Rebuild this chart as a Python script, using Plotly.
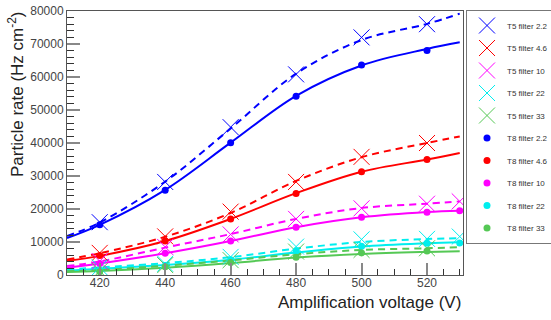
import plotly.graph_objects as go

# ---------------- data ----------------
filters = ["2.2", "4.6", "10", "22", "33"]
colors = ["#0000ff", "#ff0000", "#ff00ff", "#00eeee", "#55c855"]

volt6 = [420, 440, 460, 480, 500, 520]
volt7 = [420, 440, 460, 480, 500, 520, 530]

# measured points, T5 (crosses)
t5_22 = [16000, 28200, 44800, 60800, 72000, 76000]
t5_46 = [6700, 11700, 19200, 28200, 35800, 40000]
t5_10 = [4200, 8500, 12300, 17000, 20200, 21600, 22300]
t5_220 = [2300, 3400, 5500, 8600, 10800, 10950, 11650]
t5_33 = [1200, 3000, 4500, 7100, 7600, 8100]

# measured points, T8 (dots)
t8_22 = [15200, 25700, 40100, 54200, 63600, 68000]
t8_46 = [5900, 10300, 17000, 24700, 31300, 35000]
t8_10 = [3500, 6600, 10300, 14500, 17500, 19000, 19500]
t8_220 = [1500, 2800, 4600, 7300, 8700, 9640, 9700]
t8_33 = [1000, 2500, 3800, 5400, 6700, 7300]

# fitted curves
fit_volt = [410, 420, 440, 460, 480, 500, 520, 530]
fit_t8_22 = [11200, 15200, 25800, 40100, 54300, 63500, 68500, 70500]
fit_t5_22 = [11800, 15900, 28300, 44400, 61000, 71200, 76100, 79200]
fit_t8_46 = [4300, 5800, 10300, 17000, 24800, 31300, 35000, 37000]
fit_t5_46 = [4700, 6600, 11600, 18800, 28500, 35700, 40000, 42000]
fit_t8_10 = [2200, 3500, 6600, 10300, 14500, 17500, 19100, 19500]
fit_t5_10 = [2700, 4100, 8300, 12400, 17000, 20300, 21600, 22300]
fit_t8_220 = [1300, 1900, 3000, 4600, 6800, 8600, 9600, 9950]
fit_t5_220 = [1700, 2300, 3600, 5400, 8000, 10000, 10900, 11150]
fit_t8_33 = [900, 1200, 2200, 3600, 5300, 6400, 7000, 7200]
fit_t5_33 = [1100, 1500, 2800, 4400, 6300, 7600, 8100, 8400]

t5_sets = [(volt6, t5_22), (volt6, t5_46), (volt7, t5_10), (volt7, t5_220), (volt6, t5_33)]
t8_sets = [(volt6, t8_22), (volt6, t8_46), (volt7, t8_10), (volt7, t8_220), (volt6, t8_33)]
fit_t5 = [fit_t5_22, fit_t5_46, fit_t5_10, fit_t5_220, fit_t5_33]
fit_t8 = [fit_t8_22, fit_t8_46, fit_t8_10, fit_t8_220, fit_t8_33]

FONT = "Liberation Sans, Arial, sans-serif"

fig = go.Figure()

# fitted curves (no legend)
for i in range(5):
    fig.add_trace(go.Scatter(x=fit_volt, y=fit_t8[i], mode="lines", line=dict(color=colors[i], width=2, shape="spline"),
                             showlegend=False, hoverinfo="skip"))
    fig.add_trace(go.Scatter(x=fit_volt, y=fit_t5[i], mode="lines",
                             line=dict(color=colors[i], width=2, dash="7px,5px", shape="spline"),
                             showlegend=False, hoverinfo="skip"))

# T5 crosses
for i in range(5):
    xs, ys = t5_sets[i]
    fig.add_trace(go.Scatter(x=xs, y=ys, mode="markers", name="T5 filter " + filters[i],
                             legendgroup="a%d" % i,
                             marker=dict(symbol="x-thin-open", size=16, color=colors[i],
                                         line=dict(color=colors[i], width=1))))
# T8 dots
for i in range(5):
    xs, ys = t8_sets[i]
    fig.add_trace(go.Scatter(x=xs, y=ys, mode="markers", name="T8 filter " + filters[i],
                             legendgroup="b%d" % i,
                             marker=dict(symbol="circle", size=7, color=colors[i])))

axis_common = dict(showline=True, linecolor="#555", linewidth=1, mirror=True, showgrid=False, zeroline=False,
                   ticks="inside", tickcolor="#888", tickwidth=2, tickformat="d", automargin=False,
                   ticklabeloverflow="allow",
                   tickfont=dict(family=FONT, size=12, color="#444"))

fig.update_xaxes(range=[410, 531], tick0=420, dtick=20, ticklen=12,
                 minor=dict(dtick=5, ticks="inside", ticklen=6, tickcolor="#333", tickwidth=1),
                 **axis_common)
fig.update_yaxes(range=[0, 80000], tick0=0, dtick=10000, ticklen=13,
                 minor=dict(dtick=2000, ticks="inside", ticklen=7, tickcolor="#333", tickwidth=1),
                 **axis_common)
try:
    fig.update_xaxes(ticklabelstandoff=-3)
except Exception:
    pass

fig.add_annotation(text="Particle rate (Hz cm<sup>-2</sup>)", xref="paper", yref="paper", x=0, y=1,
                   xanchor="center", yanchor="top", xshift=-51, yshift=2, textangle=-90, showarrow=False,
                   font=dict(family=FONT, size=17, color="#222"))
fig.add_annotation(text="Amplification voltage (V)", xref="paper", yref="paper", x=1, y=0,
                   xanchor="right", yanchor="top", yshift=-16, showarrow=False,
                   font=dict(family=FONT, size=17, color="#222"))

W, H = 551, 320
fig.update_layout(
    width=W, height=H,
    margin=dict(l=67, r=88, t=11, b=45),
    paper_bgcolor="white", plot_bgcolor="white",
    legend=dict(xref="container", yref="container", x=466 / W, y=(H - 10) / H,
                xanchor="left", yanchor="top", maxheight=300,
                bordercolor="#777", borderwidth=1, bgcolor="white",
                font=dict(family=FONT, size=8, color="#333"),
                tracegroupgap=3.5, itemwidth=30, traceorder="grouped"),
)

# remove the browser's default 8px body margin so the figure sits at the page corner
fig.write_html("out.html", config={"displayModeBar": False},
               post_script="document.body.style.margin='0px';")
